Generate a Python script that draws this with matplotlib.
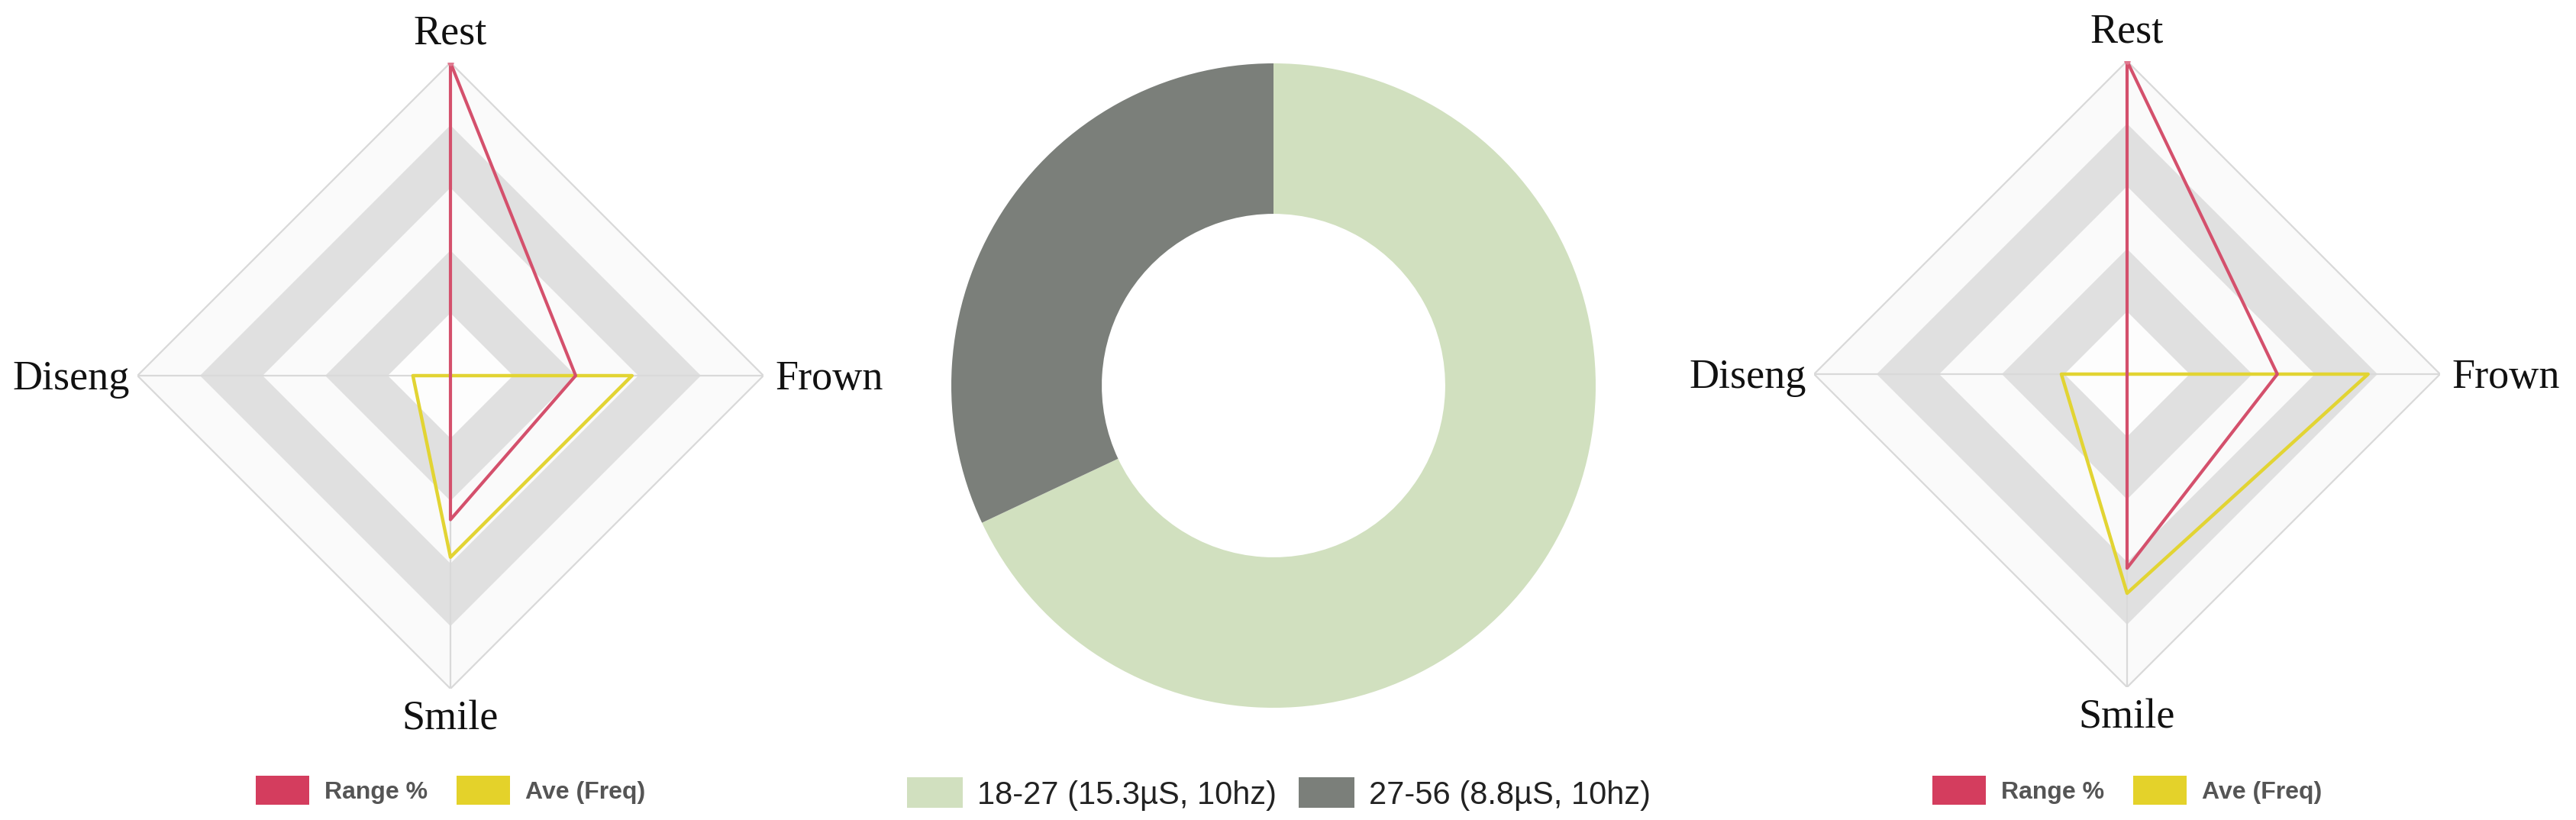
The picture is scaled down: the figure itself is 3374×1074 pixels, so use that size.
import numpy as np
import matplotlib
matplotlib.use('Agg')
import matplotlib.pyplot as plt
from matplotlib.patches import Patch

# ---------------- data ----------------
categories = ['Rest', 'Frown', 'Smile', 'Diseng']
left_range = [100, 40, 46, 0]
left_ave = [0, 58, 58, 12]
right_range = [100, 48, 62, 0]
right_ave = [0, 77, 70, 21]
series_names = ['Range %', 'Ave (Freq)']
ring_levels = [20, 40, 60, 80, 100]

donut_labels = ['18-27 (15.3µS, 10hz)', '27-56 (8.8µS, 10hz)']
donut_values = [68, 32]

# ---------------- style ----------------
W, H = 3374, 1074
DPI = 100
RED = '#d4506c'
YEL = '#e2d433'
RED_LEG = '#d43d5e'
YEL_LEG = '#e4d22a'
GREEN = '#d1e0bf'
GRAY = '#7b7f7a'
BAND_LIGHT = '#fafafa'
BAND_GRAY = '#e0e0e0'
AXLINE = '#d9d9d9'
LABEL_FONT = ['Liberation Serif', 'DejaVu Serif']

fig = plt.figure(figsize=(W / DPI, H / DPI), dpi=DPI)
fig.patch.set_facecolor('white')


def px_rect(cx, cy, r):
    return [(cx - r) / W, (H - cy - r) / H, 2 * r / W, 2 * r / H]


def closed(v):
    return list(v) + [v[0]]


def radar(cx, cy, r, rng, ave):
    ax = fig.add_axes(px_rect(cx, cy, r), projection='polar')
    ax.set_theta_offset(np.pi / 2)
    ax.set_theta_direction(-1)
    theta = np.linspace(0, 2 * np.pi, len(categories), endpoint=False)
    tc = closed(theta)
    band_cols = [BAND_LIGHT, BAND_GRAY, BAND_LIGHT, BAND_GRAY, '#fdfdfd']
    for lev, col in zip(ring_levels[::-1], band_cols):
        ax.fill(tc, [lev] * len(tc), color=col, lw=0, zorder=1)
    ax.plot(tc, [ring_levels[-1]] * len(tc), color=AXLINE, lw=1.6, zorder=2)
    for t in theta:
        ax.plot([t, t], [0, ring_levels[-1]], color=AXLINE, lw=1.6, zorder=2)
    ax.plot(tc, closed(ave), color=YEL, lw=3.2, zorder=4)
    ax.plot(tc, closed(rng), color=RED, lw=3.0, zorder=5)
    ax.plot(theta[:1], rng[:1], 'o', color='#e07a90', ms=5, zorder=6)
    ax.set_ylim(0, 100)
    ax.set_axis_off()

    place = {
        'Rest': ((0, 18), 'center', 'baseline'),
        'Frown': ((11, -13), 'left', 'baseline'),
        'Smile': ((0, -11), 'center', 'top'),
        'Diseng': ((-7, -13), 'right', 'baseline'),
    }
    for t, cat in zip(theta, categories):
        (dx, dy), ha, va = place[cat]
        ax.annotate(cat, xy=(t, 100), xytext=(dx, dy), textcoords='offset points',
                    ha=ha, va=va, fontsize=39, family=LABEL_FONT, color='#111111',
                    annotation_clip=False)

    handles = [Patch(facecolor=RED_LEG, edgecolor='none'),
               Patch(facecolor=YEL_LEG, edgecolor='none')]
    leg = fig.legend(handles, series_names, loc='center',
                     bbox_to_anchor=(cx / W, 1 - 1035 / H), ncol=2, frameon=False,
                     prop={'family': ['Liberation Sans', 'DejaVu Sans'], 'weight': 'bold', 'size': 23},
                     handlelength=2.2, handleheight=1.45, handletextpad=0.6,
                     columnspacing=1.2)
    for txt in leg.get_texts():
        txt.set_color('#555555')
    return ax


radar(590, 492, 410, left_range, left_ave)
radar(2786, 490, 410, right_range, right_ave)

# ---------------- donut ----------------
axd = fig.add_axes(px_rect(1668, 505, 422))
axd.pie(donut_values, colors=[GREEN, GRAY], startangle=90, counterclock=False,
        radius=1.0, wedgeprops=dict(width=0.467, edgecolor='none'))
axd.set_xlim(-1, 1)
axd.set_ylim(-1, 1)
axd.set_axis_off()

dh = [Patch(facecolor=GREEN, edgecolor='none'), Patch(facecolor=GRAY, edgecolor='none')]
dleg = fig.legend(dh, donut_labels, loc='center', bbox_to_anchor=(1675 / W, 1 - 1040 / H),
                  ncol=2, frameon=False,
                  prop={'family': ['Liberation Sans Narrow', 'Liberation Sans', 'DejaVu Sans'], 'size': 30},
                  handlelength=1.75, handleheight=1.1, handletextpad=0.45, columnspacing=0.7)
for txt in dleg.get_texts():
    txt.set_color('#222222')

fig.savefig('out.png', dpi=DPI, facecolor='white')
